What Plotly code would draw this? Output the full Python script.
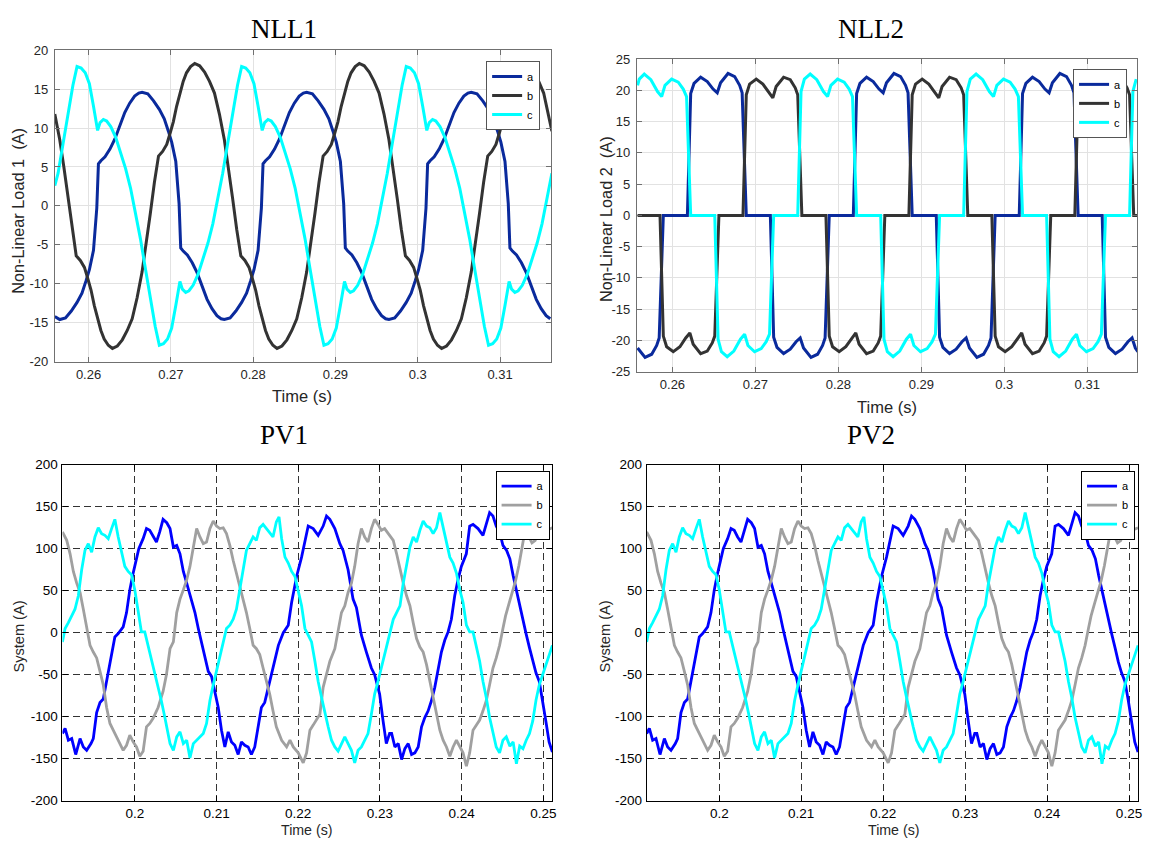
import plotly.graph_objects as go

W, H = 1150, 848

# ================= NLL1 : Non-Linear Load 1 current (A) vs time (s) =================
nll1_t_a = [0.2559,
    0.2565, 0.2572, 0.2579, 0.2586, 0.2592, 0.2597, 0.2601, 0.2606, 0.2610, 0.2612, 0.2615, 0.2620, 0.2626, 0.2632, 0.2638, 0.2644, 0.2650, 0.2656, 0.2661,
    0.2665, 0.2672, 0.2679, 0.2686, 0.2692, 0.2697, 0.2701, 0.2706, 0.2710, 0.2712, 0.2715, 0.2720, 0.2726, 0.2732, 0.2738, 0.2744, 0.2750, 0.2756, 0.2761,
    0.2765, 0.2772, 0.2779, 0.2786, 0.2792, 0.2797, 0.2801, 0.2806, 0.2810, 0.2812, 0.2815, 0.2820, 0.2826, 0.2832, 0.2838, 0.2844, 0.2850, 0.2856, 0.2861,
    0.2865, 0.2872, 0.2879, 0.2886, 0.2892, 0.2897, 0.2901, 0.2906, 0.2910, 0.2912, 0.2915, 0.2920, 0.2926, 0.2932, 0.2938, 0.2944, 0.2950, 0.2956, 0.2961,
    0.2965, 0.2972, 0.2979, 0.2986, 0.2992, 0.2997, 0.3001, 0.3006, 0.3010, 0.3012, 0.3015, 0.3020, 0.3026, 0.3032, 0.3038, 0.3044, 0.3050, 0.3056, 0.3061,
    0.3065, 0.3072, 0.3079, 0.3086, 0.3092, 0.3097, 0.3101, 0.3106, 0.3110, 0.3112, 0.3115, 0.3120, 0.3126, 0.3132, 0.3138, 0.3144, 0.3150, 0.3156, 0.3161]
nll1_y_a = [-14.2,
    -14.6, -14.4, -13.5, -12.4, -11.2, -9.6, -8.2, -5.7, -0.3, 5.4, 5.8, 6.3, 7.3, 8.6, 10.3, 12.0, 13.2, 14.1, 14.5,
    14.6, 14.4, 13.5, 12.4, 11.2, 9.6, 8.2, 5.7, 0.3, -5.4, -5.8, -6.3, -7.3, -8.6, -10.3, -12.0, -13.2, -14.1, -14.5,
    -14.6, -14.4, -13.5, -12.4, -11.2, -9.6, -8.2, -5.7, -0.3, 5.4, 5.8, 6.3, 7.3, 8.6, 10.3, 12.0, 13.2, 14.1, 14.5,
    14.6, 14.4, 13.5, 12.4, 11.2, 9.6, 8.2, 5.7, 0.3, -5.4, -5.8, -6.3, -7.3, -8.6, -10.3, -12.0, -13.2, -14.1, -14.5,
    -14.6, -14.4, -13.5, -12.4, -11.2, -9.6, -8.2, -5.7, -0.3, 5.4, 5.8, 6.3, 7.3, 8.6, 10.3, 12.0, 13.2, 14.1, 14.5,
    14.6, 14.4, 13.5, 12.4, 11.2, 9.6, 8.2, 5.7, 0.3, -5.4, -5.8, -6.3, -7.3, -8.6, -10.3, -12.0, -13.2, -14.1, -14.5]

nll1_t_b = [0.2559, 0.2565, 0.2570, 0.2575, 0.2580, 0.2585, 0.2590, 0.2595, 0.2599, 0.2603, 0.2607, 0.2611, 0.2615, 0.2619, 0.2624,
    0.2629, 0.2635, 0.2641, 0.2647, 0.2653, 0.2659, 0.2665, 0.2670, 0.2675, 0.2680, 0.2685, 0.2690, 0.2695, 0.2699, 0.2703, 0.2707, 0.2711, 0.2715, 0.2719, 0.2724,
    0.2729, 0.2735, 0.2741, 0.2747, 0.2753, 0.2759, 0.2765, 0.2770, 0.2775, 0.2780, 0.2785, 0.2790, 0.2795, 0.2799, 0.2803, 0.2807, 0.2811, 0.2815, 0.2819, 0.2824,
    0.2829, 0.2835, 0.2841, 0.2847, 0.2853, 0.2859, 0.2865, 0.2870, 0.2875, 0.2880, 0.2885, 0.2890, 0.2895, 0.2899, 0.2903, 0.2907, 0.2911, 0.2915, 0.2919, 0.2924,
    0.2929, 0.2935, 0.2941, 0.2947, 0.2953, 0.2959, 0.2965, 0.2970, 0.2975, 0.2980, 0.2985, 0.2990, 0.2995, 0.2999, 0.3003, 0.3007, 0.3011, 0.3015, 0.3019, 0.3024,
    0.3029, 0.3035, 0.3041, 0.3047, 0.3053, 0.3059, 0.3065, 0.3070, 0.3075, 0.3080, 0.3085, 0.3090, 0.3095, 0.3099, 0.3103, 0.3107, 0.3111, 0.3115, 0.3119, 0.3124,
    0.3129, 0.3135, 0.3141, 0.3147, 0.3153, 0.3159, 0.3163]
nll1_y_b = [11.8, 8.5, 5.0, 1.0, -3.0, -6.4, -7.0, -7.9, -9.3, -10.8, -12.8, -14.6, -16.0, -17.1, -17.9,
    -18.3, -18.0, -17.2, -16.0, -14.5, -11.8, -8.5, -5.0, -1.0, 3.0, 6.4, 7.0, 7.9, 9.3, 10.8, 12.8, 14.6, 16.0, 17.1, 17.9,
    18.3, 18.0, 17.2, 16.0, 14.5, 11.8, 8.5, 5.0, 1.0, -3.0, -6.4, -7.0, -7.9, -9.3, -10.8, -12.8, -14.6, -16.0, -17.1, -17.9,
    -18.3, -18.0, -17.2, -16.0, -14.5, -11.8, -8.5, -5.0, -1.0, 3.0, 6.4, 7.0, 7.9, 9.3, 10.8, 12.8, 14.6, 16.0, 17.1, 17.9,
    18.3, 18.0, 17.2, 16.0, 14.5, 11.8, 8.5, 5.0, 1.0, -3.0, -6.4, -7.0, -7.9, -9.3, -10.8, -12.8, -14.6, -16.0, -17.1, -17.9,
    -18.3, -18.0, -17.2, -16.0, -14.5, -11.8, -8.5, -5.0, -1.0, 3.0, 6.4, 7.0, 7.9, 9.3, 10.8, 12.8, 14.6, 16.0, 17.1, 17.9,
    18.3, 18.0, 17.2, 16.0, 14.5, 11.8, 9.6]

nll1_t_c = [0.2559, 0.2563, 0.2569, 0.2575, 0.2581,
    0.2586, 0.2591, 0.2596, 0.2601, 0.2606, 0.2611, 0.2614, 0.2618, 0.2622, 0.2627, 0.2633, 0.2639, 0.2645, 0.2651, 0.2657, 0.2663, 0.2669, 0.2675, 0.2681,
    0.2686, 0.2691, 0.2696, 0.2701, 0.2706, 0.2711, 0.2714, 0.2718, 0.2722, 0.2727, 0.2733, 0.2739, 0.2745, 0.2751, 0.2757, 0.2763, 0.2769, 0.2775, 0.2781,
    0.2786, 0.2791, 0.2796, 0.2801, 0.2806, 0.2811, 0.2814, 0.2818, 0.2822, 0.2827, 0.2833, 0.2839, 0.2845, 0.2851, 0.2857, 0.2863, 0.2869, 0.2875, 0.2881,
    0.2886, 0.2891, 0.2896, 0.2901, 0.2906, 0.2911, 0.2914, 0.2918, 0.2922, 0.2927, 0.2933, 0.2939, 0.2945, 0.2951, 0.2957, 0.2963, 0.2969, 0.2975, 0.2981,
    0.2986, 0.2991, 0.2996, 0.3001, 0.3006, 0.3011, 0.3014, 0.3018, 0.3022, 0.3027, 0.3033, 0.3039, 0.3045, 0.3051, 0.3057, 0.3063, 0.3069, 0.3075, 0.3081,
    0.3086, 0.3091, 0.3096, 0.3101, 0.3106, 0.3111, 0.3114, 0.3118, 0.3122, 0.3127, 0.3133, 0.3139, 0.3145, 0.3151, 0.3157, 0.3163]
nll1_y_c = [2.6, 4.2, 8.0, 12.0, 15.5,
    17.9, 17.7, 17.1, 15.7, 12.8, 9.7, 10.7, 11.1, 10.9, 10.2, 8.8, 6.9, 4.8, 2.3, -0.8, -4.2, -8.0, -12.0, -15.5,
    -17.9, -17.7, -17.1, -15.7, -12.8, -9.7, -10.7, -11.1, -10.9, -10.2, -8.8, -6.9, -4.8, -2.3, 0.8, 4.2, 8.0, 12.0, 15.5,
    17.9, 17.7, 17.1, 15.7, 12.8, 9.7, 10.7, 11.1, 10.9, 10.2, 8.8, 6.9, 4.8, 2.3, -0.8, -4.2, -8.0, -12.0, -15.5,
    -17.9, -17.7, -17.1, -15.7, -12.8, -9.7, -10.7, -11.1, -10.9, -10.2, -8.8, -6.9, -4.8, -2.3, 0.8, 4.2, 8.0, 12.0, 15.5,
    17.9, 17.7, 17.1, 15.7, 12.8, 9.7, 10.7, 11.1, 10.9, 10.2, 8.8, 6.9, 4.8, 2.3, -0.8, -4.2, -8.0, -12.0, -15.5,
    -17.9, -17.7, -17.1, -15.7, -12.8, -9.7, -10.7, -11.1, -10.9, -10.2, -8.8, -6.9, -4.8, -2.3, 0.8, 4.2]

# ================= NLL2 : Non-Linear Load 2 current (A) vs time (s) =================
nll2_t_a = [0.2558, 0.2567, 0.2575, 0.2581, 0.2584, 0.2589,
    0.2618, 0.2622, 0.2626, 0.2634, 0.2642, 0.2649, 0.2654, 0.2658, 0.2667, 0.2675, 0.2681, 0.2684, 0.2689,
    0.2718, 0.2722, 0.2726, 0.2734, 0.2742, 0.2749, 0.2754, 0.2758, 0.2767, 0.2775, 0.2781, 0.2784, 0.2789,
    0.2818, 0.2822, 0.2826, 0.2834, 0.2842, 0.2849, 0.2854, 0.2858, 0.2867, 0.2875, 0.2881, 0.2884, 0.2889,
    0.2918, 0.2922, 0.2926, 0.2934, 0.2942, 0.2949, 0.2954, 0.2958, 0.2967, 0.2975, 0.2981, 0.2984, 0.2989,
    0.3018, 0.3022, 0.3026, 0.3034, 0.3042, 0.3049, 0.3054, 0.3058, 0.3067, 0.3075, 0.3081, 0.3084, 0.3089,
    0.3118, 0.3122, 0.3126, 0.3134, 0.3142, 0.3149, 0.3154, 0.3158, 0.3161]
nll2_y_a = [-21.2, -22.7, -22.2, -20.8, -19.6, 0,
    0, 19.5, 21.1, 22.1, 21.4, 20.2, 19.6, 21.2, 22.7, 22.2, 20.8, 19.6, 0,
    0, -19.5, -21.1, -22.1, -21.4, -20.2, -19.6, -21.2, -22.7, -22.2, -20.8, -19.6, 0,
    0, 19.5, 21.1, 22.1, 21.4, 20.2, 19.6, 21.2, 22.7, 22.2, 20.8, 19.6, 0,
    0, -19.5, -21.1, -22.1, -21.4, -20.2, -19.6, -21.2, -22.7, -22.2, -20.8, -19.6, 0,
    0, 19.5, 21.1, 22.1, 21.4, 20.2, 19.6, 21.2, 22.7, 22.2, 20.8, 19.6, 0,
    0, -19.5, -21.1, -22.1, -21.4, -20.2, -19.6, -21.2, -21.8]

nll2_t_b = [0.2558,
    0.2585, 0.2589, 0.2593, 0.2601, 0.2609, 0.2616, 0.2621, 0.2625, 0.2634, 0.2642, 0.2648, 0.2651, 0.2656,
    0.2685, 0.2689, 0.2693, 0.2701, 0.2709, 0.2716, 0.2721, 0.2725, 0.2734, 0.2742, 0.2748, 0.2751, 0.2756,
    0.2785, 0.2789, 0.2793, 0.2801, 0.2809, 0.2816, 0.2821, 0.2825, 0.2834, 0.2842, 0.2848, 0.2851, 0.2856,
    0.2885, 0.2889, 0.2893, 0.2901, 0.2909, 0.2916, 0.2921, 0.2925, 0.2934, 0.2942, 0.2948, 0.2951, 0.2956,
    0.2985, 0.2989, 0.2993, 0.3001, 0.3009, 0.3016, 0.3021, 0.3025, 0.3034, 0.3042, 0.3048, 0.3051, 0.3056,
    0.3085, 0.3089, 0.3093, 0.3101, 0.3109, 0.3116, 0.3121, 0.3125, 0.3134, 0.3142, 0.3148, 0.3151, 0.3156, 0.3161]
nll2_y_b = [0,
    0, -19.3, -21.0, -21.8, -21.0, -19.6, -18.8, -20.6, -22.1, -21.7, -20.4, -19.3, 0,
    0, 19.3, 21.0, 21.8, 21.0, 19.6, 18.8, 20.6, 22.1, 21.7, 20.4, 19.3, 0,
    0, -19.3, -21.0, -21.8, -21.0, -19.6, -18.8, -20.6, -22.1, -21.7, -20.4, -19.3, 0,
    0, 19.3, 21.0, 21.8, 21.0, 19.6, 18.8, 20.6, 22.1, 21.7, 20.4, 19.3, 0,
    0, -19.3, -21.0, -21.8, -21.0, -19.6, -18.8, -20.6, -22.1, -21.7, -20.4, -19.3, 0,
    0, 19.3, 21.0, 21.8, 21.0, 19.6, 18.8, 20.6, 22.1, 21.7, 20.4, 19.3, 0, 0]

nll2_t_c = [0.2558, 0.2560, 0.2566, 0.2574, 0.2582, 0.2587, 0.2591, 0.2599, 0.2607, 0.2613, 0.2617, 0.2622,
    0.2651, 0.2655, 0.2659, 0.2666, 0.2674, 0.2682, 0.2687, 0.2691, 0.2699, 0.2707, 0.2713, 0.2717, 0.2722,
    0.2751, 0.2755, 0.2759, 0.2766, 0.2774, 0.2782, 0.2787, 0.2791, 0.2799, 0.2807, 0.2813, 0.2817, 0.2822,
    0.2851, 0.2855, 0.2859, 0.2866, 0.2874, 0.2882, 0.2887, 0.2891, 0.2899, 0.2907, 0.2913, 0.2917, 0.2922,
    0.2951, 0.2955, 0.2959, 0.2966, 0.2974, 0.2982, 0.2987, 0.2991, 0.2999, 0.3007, 0.3013, 0.3017, 0.3022,
    0.3051, 0.3055, 0.3059, 0.3066, 0.3074, 0.3082, 0.3087, 0.3091, 0.3099, 0.3107, 0.3113, 0.3117, 0.3122,
    0.3151, 0.3155, 0.3159]
nll2_y_c = [20.8, 21.8, 22.6, 21.7, 19.8, 19.0, 20.8, 21.8, 21.3, 20.2, 19.0, 0,
    0, -19.8, -21.8, -22.6, -21.7, -19.8, -19.0, -20.8, -21.8, -21.3, -20.2, -19.0, 0,
    0, 19.8, 21.8, 22.6, 21.7, 19.8, 19.0, 20.8, 21.8, 21.3, 20.2, 19.0, 0,
    0, -19.8, -21.8, -22.6, -21.7, -19.8, -19.0, -20.8, -21.8, -21.3, -20.2, -19.0, 0,
    0, 19.8, 21.8, 22.6, 21.7, 19.8, 19.0, 20.8, 21.8, 21.3, 20.2, 19.0, 0,
    0, -19.8, -21.8, -22.6, -21.7, -19.8, -19.0, -20.8, -21.8, -21.3, -20.2, -19.0, 0,
    0, 19.8, 21.8]

# ================= PV1 / PV2 : System current (A) vs time (s) (both panels show the same record) =================
pv_t_a = [0.19114, 0.19147, 0.19187, 0.19228, 0.19277, 0.1933, 0.1937, 0.19411, 0.19464, 0.19492,
    0.19533, 0.19574, 0.19614, 0.19655, 0.19716, 0.19756, 0.19797, 0.19858, 0.19899, 0.19939,
    0.1998, 0.20021, 0.20049, 0.20102, 0.20143, 0.20183, 0.20224, 0.20265, 0.20305, 0.20346,
    0.20391, 0.20431, 0.20472, 0.20513, 0.20553, 0.20594, 0.20635, 0.20675, 0.20716, 0.20736,
    0.20777, 0.20817, 0.20858, 0.20899, 0.20939, 0.2098, 0.21021, 0.21061, 0.21102, 0.21143,
    0.21183, 0.21224, 0.21265, 0.21305, 0.21346, 0.21387, 0.21427, 0.21468, 0.21509, 0.21549,
    0.2159, 0.21651, 0.21712, 0.21757, 0.21817, 0.21878, 0.21919, 0.2198, 0.22041, 0.22122,
    0.22183, 0.22244, 0.22305, 0.22346, 0.22387, 0.22448, 0.22509, 0.22549, 0.2261, 0.22671,
    0.22712, 0.22773, 0.22834, 0.22895, 0.22935, 0.22996, 0.23037, 0.23078, 0.23118, 0.23143,
    0.23183, 0.23224, 0.23265, 0.23305, 0.23346, 0.23387, 0.23427, 0.23468, 0.23509, 0.23549,
    0.2359, 0.2363, 0.23671, 0.23712, 0.23752, 0.23793, 0.23834, 0.23874, 0.23915, 0.23955,
    0.23996, 0.24057, 0.24098, 0.24139, 0.242, 0.24261, 0.24301, 0.24342, 0.24383, 0.24423,
    0.24464, 0.24505, 0.2455, 0.2459, 0.2463, 0.2467, 0.2471, 0.2475, 0.2479, 0.2483,
    0.2487, 0.2491, 0.2495, 0.2499, 0.2503, 0.2507, 0.2511]
pv_y_a = [-120, -114, -128, -126, -145, -126, -136, -140, -132, -126,
    -95, -83, -79, -58, -26, -5, -1, 7, 24, 51,
    71, 88, 100, 112, 124, 122, 114, 108, 120, 135,
    131, 124, 102, 104, 94, 73, 59, 44, 30, 24,
    5, -11, -27, -46, -52, -69, -89, -116, -136, -118,
    -130, -134, -145, -130, -134, -136, -145, -136, -112, -89,
    -83, -58, -34, -15, 0, 9, 36, 67, 90, 127,
    124, 116, 127, 139, 135, 124, 106, 98, 75, 40,
    30, -3, -23, -42, -50, -73, -104, -132, -120, -120,
    -136, -132, -151, -138, -132, -145, -143, -136, -112, -101,
    -93, -81, -65, -42, -23, -9, 1, 16, 44, 63,
    79, 94, 127, 129, 124, 116, 129, 143, 139, 127,
    120, 104, 98, 88, 68, 50, 30, 15, -2, -18,
    -35, -48, -58, -80, -105, -130, -142]

pv_t_b = [0.19114, 0.19167, 0.19208, 0.19248, 0.19289, 0.1933, 0.1937, 0.19411, 0.19452, 0.19492,
    0.19533, 0.19574, 0.19614, 0.19655, 0.19696, 0.19736, 0.19777, 0.19817, 0.19858, 0.19899,
    0.19939, 0.1998, 0.20021, 0.20061, 0.20102, 0.20143, 0.20183, 0.20224, 0.20285, 0.20346,
    0.20387, 0.20431, 0.20472, 0.20513, 0.20553, 0.20594, 0.20635, 0.20675, 0.20716, 0.20757,
    0.20797, 0.20838, 0.20878, 0.20919, 0.2096, 0.21, 0.21041, 0.21082, 0.21122, 0.21163,
    0.21204, 0.21244, 0.21285, 0.21326, 0.21366, 0.21407, 0.21448, 0.21488, 0.21529, 0.2157,
    0.2161, 0.21651, 0.21691, 0.21732, 0.21797, 0.21858, 0.21899, 0.21939, 0.22, 0.22061,
    0.22102, 0.22143, 0.22183, 0.22224, 0.22265, 0.22305, 0.22346, 0.22387, 0.22448, 0.22488,
    0.22529, 0.2257, 0.2261, 0.22651, 0.22691, 0.22732, 0.22773, 0.22813, 0.22854, 0.22895,
    0.22935, 0.22976, 0.23017, 0.23057, 0.23098, 0.23163, 0.23204, 0.23245, 0.23285, 0.23326,
    0.23367, 0.23407, 0.23448, 0.23489, 0.23529, 0.2357, 0.23611, 0.23651, 0.23692, 0.23733,
    0.23773, 0.23814, 0.23855, 0.23895, 0.23936, 0.23977, 0.24017, 0.24058, 0.24098, 0.24139,
    0.2418, 0.2422, 0.24261, 0.24301, 0.24342, 0.24383, 0.24423, 0.24464, 0.24505, 0.24537,
    0.2458, 0.2462, 0.2466, 0.2470, 0.2474, 0.2478, 0.2482, 0.2486, 0.2490, 0.2494,
    0.2498, 0.2502, 0.2506, 0.2511]
pv_y_b = [120, 110, 94, 73, 59, 48, 28, 5, -15, -23,
    -30, -46, -62, -89, -108, -116, -124, -132, -140, -134,
    -122, -130, -136, -147, -141, -112, -108, -102, -89, -70,
    -50, -19, -11, 24, 40, 51, 63, 79, 102, 124,
    114, 106, 108, 124, 133, 127, 124, 125, 118, 104,
    86, 71, 55, 40, 24, 5, -15, -19, -26, -42,
    -58, -73, -93, -112, -128, -136, -128, -136, -143, -155,
    -143, -116, -110, -104, -97, -65, -50, -34, -19, 1,
    24, 32, 48, 59, 79, 106, 124, 114, 108, 124,
    135, 129, 122, 124, 118, 110, 94, 75, 59, 44,
    32, 12, -7, -17, -23, -38, -58, -77, -100, -116,
    -128, -136, -147, -136, -128, -136, -143, -159, -143, -116,
    -110, -104, -93, -81, -62, -42, -30, -15, 5, 20,
    35, 48, 62, 80, 104, 124, 115, 107, 110, 124,
    134, 128, 123, 125]

pv_t_c = [0.19114, 0.19147, 0.19187, 0.19228, 0.19268, 0.19309, 0.1935, 0.1939, 0.19431, 0.19472,
    0.19512, 0.19553, 0.19594, 0.19634, 0.19675, 0.19716, 0.19756, 0.19797, 0.19838, 0.19878,
    0.19919, 0.1996, 0.2, 0.20041, 0.20081, 0.20122, 0.20163, 0.20203, 0.20244, 0.20285,
    0.20325, 0.20366, 0.20391, 0.20431, 0.20472, 0.20513, 0.20553, 0.20594, 0.20635, 0.20675,
    0.20716, 0.20757, 0.20797, 0.20838, 0.20878, 0.20919, 0.2096, 0.21, 0.21041, 0.21082,
    0.21122, 0.21163, 0.21204, 0.21244, 0.21285, 0.21326, 0.21366, 0.21407, 0.21448, 0.21488,
    0.21529, 0.2157, 0.2161, 0.21651, 0.21691, 0.21732, 0.21765, 0.21797, 0.21838, 0.21878,
    0.21919, 0.2196, 0.22, 0.22041, 0.22082, 0.22122, 0.22163, 0.22204, 0.22244, 0.22285,
    0.22326, 0.22366, 0.22407, 0.22448, 0.22488, 0.22529, 0.2257, 0.2261, 0.22651, 0.22691,
    0.22732, 0.22773, 0.22813, 0.22854, 0.22895, 0.22935, 0.22976, 0.23017, 0.23057, 0.23098,
    0.2313, 0.23163, 0.23204, 0.23245, 0.23285, 0.23326, 0.23367, 0.23407, 0.23448, 0.23489,
    0.23529, 0.2357, 0.23611, 0.23651, 0.23692, 0.23733, 0.23773, 0.23814, 0.23855, 0.23895,
    0.23936, 0.23977, 0.24017, 0.24058, 0.24098, 0.24139, 0.2418, 0.2422, 0.24261, 0.24301,
    0.24342, 0.24383, 0.24423, 0.24464, 0.24505, 0.24546, 0.2459, 0.2463, 0.2467, 0.2471,
    0.2475, 0.2479, 0.2483, 0.2487, 0.2491, 0.2495, 0.2499, 0.2503, 0.2507, 0.2511]
pv_y_c = [-11, 5, 12, 20, 28, 44, 75, 98, 106, 96,
    114, 125, 118, 116, 112, 124, 135, 114, 94, 79,
    73, 69, 51, 28, 1, 1, -15, -34, -50, -65,
    -81, -100, -112, -132, -140, -124, -118, -132, -128, -149,
    -132, -128, -124, -120, -108, -81, -62, -46, -30, -11,
    5, 9, 16, 28, 51, 79, 98, 106, 114, 110,
    125, 129, 124, 120, 114, 132, 138, 112, 90, 83,
    73, 67, 51, 32, 5, -3, -11, -34, -58, -77,
    -97, -112, -128, -136, -141, -132, -124, -132, -140, -155,
    -140, -136, -128, -120, -97, -73, -58, -42, -27, -11,
    5, 16, 24, 32, 59, 83, 102, 114, 108, 122,
    133, 127, 125, 118, 125, 143, 125, 110, 90, 83,
    71, 51, 36, 9, 1, 1, -15, -34, -58, -77,
    -101, -120, -136, -143, -128, -124, -135, -130, -156, -135,
    -138, -128, -120, -105, -80, -62, -50, -38, -25, -15]

phase_names = ["a", "b", "c"]

# tick values / labels
nll_x_ticks = [0.26, 0.27, 0.28, 0.29, 0.30, 0.31]
nll_x_labels = ["0.26", "0.27", "0.28", "0.29", "0.3", "0.31"]
nll1_y_ticks = [-20, -15, -10, -5, 0, 5, 10, 15, 20]
nll1_y_labels = ["-20", "-15", "-10", "-5", "0", "5", "10", "15", "20"]
nll2_y_ticks = [-25, -20, -15, -10, -5, 0, 5, 10, 15, 20, 25]
nll2_y_labels = ["-25", "-20", "-15", "-10", "-5", "0", "5", "10", "15", "20", "25"]
pv_x_ticks = [0.20, 0.21, 0.22, 0.23, 0.24, 0.25]
pv_x_labels = ["0.2", "0.21", "0.22", "0.23", "0.24", "0.25"]
pv_y_ticks = [-200, -150, -100, -50, 0, 50, 100, 150, 200]
pv_y_labels = ["-200", "-150", "-100", "-50", "0", "50", "100", "150", "200"]

# ---------------- styling ----------------
NLL_COLORS = ["#0a2a9c", "#333333", "#00ffff"]
PV_COLORS = ["#0000ff", "#a0a0a0", "#00ffff"]


def px(x):
    return x / W


def py(y):
    return 1 - y / H


fig = go.Figure()


def add_line(t, y, name, color, width, xa, ya, leg):
    fig.add_trace(go.Scatter(x=t, y=y, mode="lines", name=name,
                             line=dict(color=color, width=width),
                             xaxis=xa, yaxis=ya, legend=leg, hoverinfo="skip"))


for t, y, n, c in zip([nll1_t_a, nll1_t_b, nll1_t_c], [nll1_y_a, nll1_y_b, nll1_y_c], phase_names, NLL_COLORS):
    add_line(t, y, n, c, 3, "x", "y", "legend")
for t, y, n, c in zip([nll2_t_a, nll2_t_b, nll2_t_c], [nll2_y_a, nll2_y_b, nll2_y_c], phase_names, NLL_COLORS):
    add_line(t, y, n, c, 3, "x2", "y2", "legend2")
for t, y, n, c in zip([pv_t_a, pv_t_b, pv_t_c], [pv_y_a, pv_y_b, pv_y_c], phase_names, PV_COLORS):
    add_line(t, y, n, c, 2.8, "x3", "y3", "legend3")
for t, y, n, c in zip([pv_t_a, pv_t_b, pv_t_c], [pv_y_a, pv_y_b, pv_y_c], phase_names, PV_COLORS):
    add_line(t, y, n, c, 2.8, "x4", "y4", "legend4")

TICKFONT = "Liberation Sans"


def nll_axis(dom, rng, tv, tt, anchor, standoff):
    return dict(domain=dom, range=rng, anchor=anchor, tickvals=tv, ticktext=tt,
                showline=True, linecolor="#707070", linewidth=1, mirror="ticks",
                ticks="inside", ticklen=5, tickcolor="#707070", ticklabelstandoff=standoff,
                showgrid=True, gridcolor="#e2e2e2", gridwidth=1, zeroline=False,
                tickfont=dict(family=TICKFONT, size=13, color="#262626"))


def pv_axis(dom, rng, tv, tt, anchor, standoff):
    return dict(domain=dom, range=rng, anchor=anchor, tickvals=tv, ticktext=tt,
                showline=True, linecolor="#000000", linewidth=1.2, mirror="ticks",
                ticks="inside", ticklen=5, tickcolor="#000000", ticklabelstandoff=standoff,
                showgrid=True, gridcolor="#333333", gridwidth=1, griddash="7px,4px", zeroline=False,
                tickfont=dict(family=TICKFONT, size=13.5, color="#000000"))


P1 = dict(x=[px(55), px(553)], y=[py(361), py(44)])
P2 = dict(x=[px(639), px(1141)], y=[py(371.3), py(53)])
P3 = dict(x=[px(62.7), px(554.3)], y=[py(808), py(466)])
P4 = dict(x=[px(649), px(1142)], y=[py(808), py(466)])


def legend_at(xr, yt, border):
    return dict(x=px(xr), y=py(yt), xanchor="right", yanchor="top", bgcolor="white",
                bordercolor=border, borderwidth=1, itemwidth=30, tracegroupgap=0,
                font=dict(family=TICKFONT, size=11, color="#000000"))


layout = dict(
    width=W, height=H, autosize=False,
    margin=dict(l=0, r=0, t=0, b=0),
    paper_bgcolor="white", plot_bgcolor="white",
    xaxis=nll_axis(P1["x"], [0.2559, 0.3162], nll_x_ticks, nll_x_labels, "y", 1),
    yaxis=nll_axis(P1["y"], [-20, 20], nll1_y_ticks, nll1_y_labels, "x", 3),
    xaxis2=nll_axis(P2["x"], [0.2557, 0.3160], nll_x_ticks, nll_x_labels, "y2", 1),
    yaxis2=nll_axis(P2["y"], [-25, 25], nll2_y_ticks, nll2_y_labels, "x2", 3),
    xaxis3=pv_axis(P3["x"], [0.19115, 0.2511], pv_x_ticks, pv_x_labels, "y3", 0),
    yaxis3=pv_axis(P3["y"], [-200, 200], pv_y_ticks, pv_y_labels, "x3", 1),
    xaxis4=pv_axis(P4["x"], [0.19115, 0.2511], pv_x_ticks, pv_x_labels, "y4", 0),
    yaxis4=pv_axis(P4["y"], [-200, 200], pv_y_ticks, pv_y_labels, "x4", 1),
    legend=legend_at(542, 55, "#555555"),
    legend2=legend_at(1131, 63, "#555555"),
    legend3=legend_at(551.5, 472, "#000000"),
    legend4=legend_at(1139, 472, "#000000"),
)
fig.update_layout(**layout)

ann = []
SERIF = "Liberation Serif"
for txt, x, y in [("NLL1", 285, 22), ("NLL2", 874, 22), ("PV1", 285, 436), ("PV2", 874, 436)]:
    ann.append(dict(text=txt, x=px(x), y=py(y), xref="paper", yref="paper", showarrow=False,
                    xanchor="center", yanchor="middle", font=dict(family=SERIF, size=27, color="#000000")))
# axis titles
for txt, x, y, s in [("Time (s)", 303, 396, 16.5), ("Time (s)", 890, 407, 16.5),
                     ("Time (s)", 308, 838, 14.2), ("Time (s)", 897, 838, 14.2)]:
    ann.append(dict(text=txt, x=px(x), y=py(y), xref="paper", yref="paper", showarrow=False,
                    xanchor="center", yanchor="middle", font=dict(family=TICKFONT, size=s, color="#262626")))
for txt, x, y, s in [("Non-Linear Load 1\u00a0 (A)", 18.5, 207, 16.3), ("Non-Linear Load 2\u00a0 (A)", 608, 216, 16.3),
                     ("System (A)", 19, 641, 14.6), ("System (A)", 607, 641, 14.6)]:
    ann.append(dict(text=txt, x=px(x), y=py(y), xref="paper", yref="paper", showarrow=False, textangle=-90,
                    xanchor="center", yanchor="middle", font=dict(family=TICKFONT, size=s, color="#262626")))
fig.update_layout(annotations=ann)

# page without default body margin so the 1150x848 figure fills the window exactly
page_fix = ("document.body.style.margin='0';document.body.style.padding='0';"
            "document.body.style.overflow='hidden';document.documentElement.style.overflow='hidden';")
fig.write_html("out.html", config={"displayModeBar": False}, post_script=page_fix)
